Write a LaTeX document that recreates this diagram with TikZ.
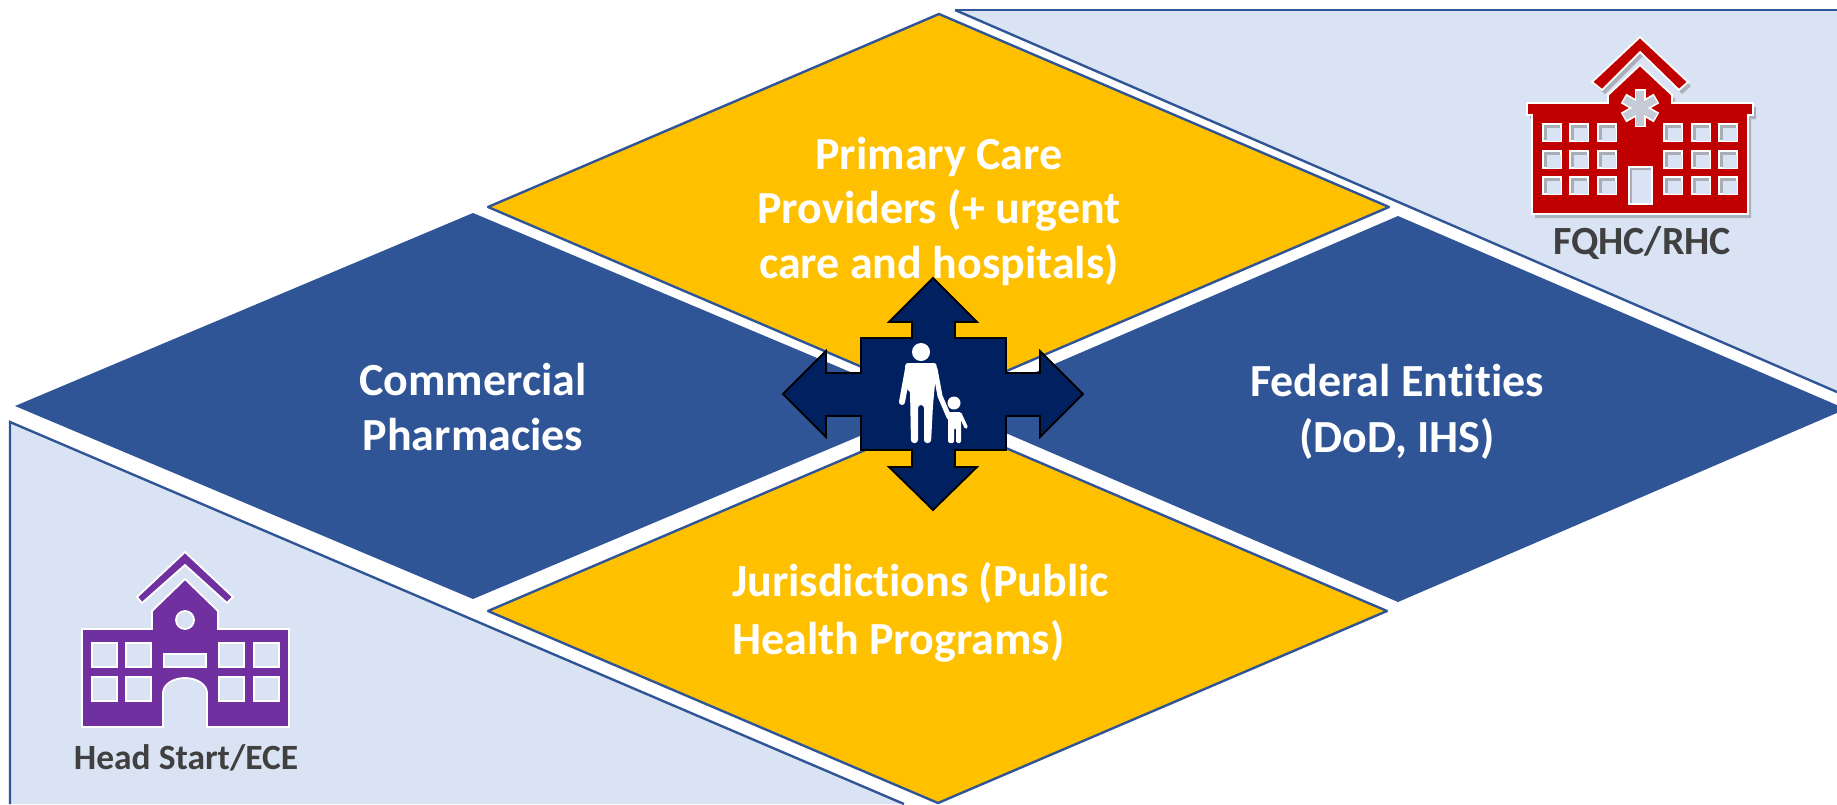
\documentclass[tikz,border=0pt]{standalone}
\usepackage{fontspec}
\setmainfont[Ligatures=NoCommon]{Carlito}
\definecolor{gold}{HTML}{FFC000}
\definecolor{midblue}{HTML}{2F5597}
\definecolor{paleblue}{HTML}{DAE3F3}
\definecolor{navy}{HTML}{002060}
\definecolor{schoolpurple}{HTML}{7030A0}
\definecolor{hospitalred}{HTML}{C00000}
\definecolor{labelgray}{HTML}{404040}
\definecolor{glassgray}{HTML}{A9ADB5}
\tikzset{
  goldcell/.style={fill=gold, draw=midblue, line width=2.4pt, line join=round},
  bluecell/.style={fill=midblue},
  cornerline/.style={draw=midblue, line width=2.4pt},
  mainlabel/.style={text=white, align=center, font=\fontsize{46}{54.5}\selectfont\bfseries},
  redpart/.style={fill=hospitalred, draw=white, line width=1.8pt},
  purplepart/.style={fill=schoolpurple, draw=white, line width=1.8pt},
  redpane/.style={fill=glassgray, draw=white, line width=1.8pt},
  purplepane/.style={fill=paleblue, draw=white, line width=1.8pt},
  bigarrow/.style={fill=navy, draw=black, line width=1.8pt, line join=miter},
  limb/.style={draw=white, line cap=round, line join=round}
}
\begin{document}
\begin{tikzpicture}[x=1pt, y=-1pt]
	\useasboundingbox (0,0) rectangle (1837,804);
	% pale corners
	\fill[paleblue] (955,10) -- (1837,10) -- (1837,392) -- cycle;
	\draw[cornerline] (955,10) -- (1837,10);
	\draw[cornerline] (955,10) -- (1837,392);
	\fill[paleblue] (10,422) -- (904,804) -- (10,804) -- cycle;
	\draw[cornerline] (10,804) -- (10,422) -- (904,804);
	% the four cells
	\fill[bluecell] (15,406) -- (473,213) -- (931,406) -- (473,599) -- cycle;
	\fill[bluecell] (950,409) -- (1398,216) -- (1846,409) -- (1398,602) -- cycle;
	\draw[goldcell] (488,207) -- (939,14) -- (1389,207) -- (939,400) -- cycle;
	\draw[goldcell] (488,611) -- (938,419) -- (1387,611) -- (938,803) -- cycle;
	% centre arrows
	\draw[bigarrow] (933,278) -- (977,322) -- (955,322) -- (955,338) -- (1006,338) -- (1006,373)
		-- (1040,373) -- (1040,351) -- (1083,394) -- (1040,437) -- (1040,416) -- (1006,416)
		-- (1006,450) -- (955,450) -- (955,467) -- (977,467) -- (933,510) -- (889,467)
		-- (912,467) -- (912,450) -- (861,450) -- (861,416) -- (826,416) -- (826,437)
		-- (783,394) -- (826,351) -- (826,373) -- (861,373) -- (861,338) -- (912,338)
		-- (912,322) -- (889,322) -- cycle;
	% adult and child
	\fill[white] (921,352) circle (9);
	\fill[white, rounded corners=3pt] (905,363) -- (937,363) -- (933,405) -- (931,443) -- (924,443) -- (924,405)
		-- (918,405) -- (918,443) -- (911,443) -- (910,390) -- (906,390) -- cycle;
	\draw[limb, line width=6pt] (908,369) -- (902,402);
	\draw[limb, line width=5pt] (935,369) -- (940,396) -- (949,417);
	\fill[white] (954,403) circle (6.5);
	\fill[white, rounded corners=1.5pt] (948,412) -- (961,412) -- (961,443) -- (956,443) -- (956,428) -- (954,428)
		-- (954,443) -- (948,443) -- cycle;
	\draw[limb, line width=3.5pt] (960,414) -- (966,427);
	% hospital
	\begin{scope}[shift={(3,4)}]
		\fill[black, opacity=.22] (1640,37) -- (1688,82) -- (1679,90) -- (1640,52) -- (1602,90) -- (1592,82) -- cycle;
		\fill[black, opacity=.22] (1640,65) -- (1672,95) -- (1672,103) -- (1753,103) -- (1753,115) -- (1748,115)
			-- (1748,214) -- (1532,214) -- (1532,115) -- (1527,115) -- (1527,103) -- (1608,103) -- (1608,95) -- cycle;
	\end{scope}
	\draw[redpart] (1640,37) -- (1688,82) -- (1679,90) -- (1640,52) -- (1602,90) -- (1592,82) -- cycle;
	\draw[redpart] (1640,65) -- (1672,95) -- (1672,103) -- (1753,103) -- (1753,115) -- (1748,115)
		-- (1748,214) -- (1532,214) -- (1532,115) -- (1527,115) -- (1527,103) -- (1608,103) -- (1608,95) -- cycle;
	\foreach \wx in {1543,1570,1598,1664,1692,1719}
		\foreach \wy in {124,151,177} {
			\draw[redpane] (\wx,\wy) rectangle ++(18,17);
			\fill[paleblue] (\wx+4,\wy+4) rectangle ++(14,13);
		}
	\draw[redpane] (1629,167) rectangle (1652,204);
	\fill[paleblue] (1632,170) rectangle (1651,203);
	\foreach \wa in {90,30,-30} {
		\draw[white, line width=11pt] (1640,108) ++(\wa:19) -- ++(\wa+180:38);
	}
	\foreach \wa in {90,30,-30} {
		\draw[glassgray!45!paleblue, line width=7.5pt] (1640,108) ++(\wa:17.5) -- ++(\wa+180:35);
	}
	\node[text=labelgray, font=\fontsize{40}{40}\selectfont\bfseries] (fqhc) at (1642,243) {FQHC/RHC};
	% school
	\draw[purplepart] (185,552) -- (233,597) -- (227,603) -- (185,565) -- (142,603) -- (137,597) -- cycle;
	\draw[purplepart] (185,579) -- (218,611) -- (218,629) -- (289,629) -- (289,727) -- (207,727) -- (207,693)
		arc (0:-180:22 and 15) -- (163,727) -- (82,727) -- (82,629) -- (152,629) -- (152,611) -- cycle;
	\fill[paleblue, draw=white, line width=1.8pt] (185,620) circle (9);
	\foreach \wx in {92,126,219,254}
		\foreach \wy in {643,677}
			\draw[purplepane] (\wx,\wy) rectangle ++(25,24);
	\draw[purplepane] (164,654) rectangle (206,667);
	\node[text=labelgray, font=\fontsize{35.5}{36}\selectfont\bfseries] (headstart) at (186,758) {Head Start/ECE};
	% labels
	\node[mainlabel] (primary) at (939,211) {Primary Care\\Providers (+ urgent\\care and hospitals)};
	\node[mainlabel] (commercial) at (473,407) {Commercial\\Pharmacies};
	\node[mainlabel, font=\fontsize{46}{56}\selectfont\bfseries] (federal) at (1397,412) {Federal Entities\\(DoD, IHS)};
	\node[mainlabel, align=left, anchor=west, inner sep=0pt, font=\fontsize{46}{58}\selectfont\bfseries] (jurisdictions) at (732,612) {Jurisdictions (Public\\Health Programs)};
\end{tikzpicture}
\end{document}
